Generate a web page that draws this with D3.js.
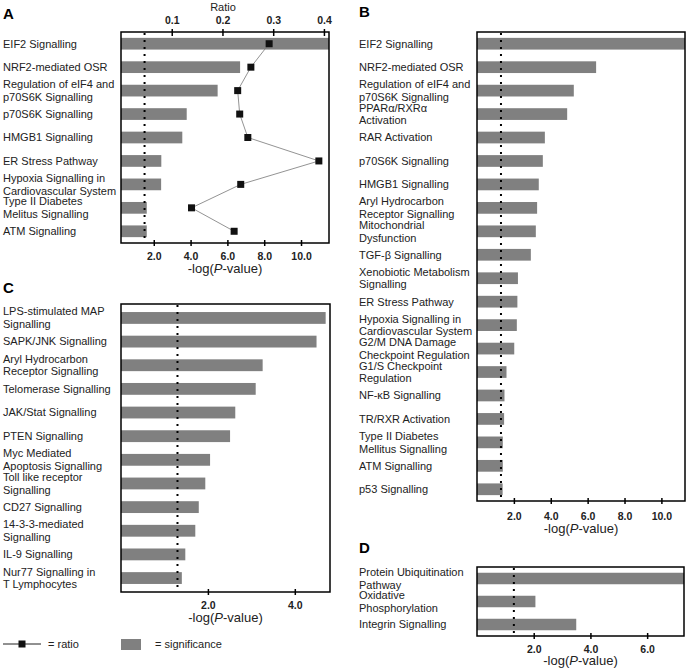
<!DOCTYPE html>
<html lang="en">
<head>
  <meta charset="UTF-8">
  <title>Canonical pathways</title>
  <style>
    body { margin: 0; background: #fff; }
    svg { display: block; font-family: 'Liberation Sans', Arial, sans-serif; }
  </style>
</head>
<body>
  <div id="chart"></div>
  <script src="https://d3js.org/d3.v7.min.js"></script>
  <script>
    const width = 689
    const height = 670

    // ---- panel A ----
    const pathwaysA = ['EIF2 Signalling', 'NRF2-mediated OSR', 'Regulation of eIF4 and\np70S6K Signalling',
      'p70S6K Signalling', 'HMGB1 Signalling', 'ER Stress Pathway',
      'Hypoxia Signalling in\nCardiovascular System', 'Type II Diabetes\nMelitus Signalling', 'ATM Signalling']
    const signifA = [11.6, 6.69, 5.47, 3.79, 3.55, 2.41, 2.40, 1.62, 1.62]
    const ratioA = [0.292, 0.256, 0.230, 0.234, 0.250, 0.390, 0.236, 0.139, 0.223]
    const ticksA = [2, 4, 6, 8, 10]
    const ratioTicksA = [0.1, 0.2, 0.3, 0.4]
    const thresholdA = 1.5

    // ---- panel B ----
    const pathwaysB = ['EIF2 Signalling', 'NRF2-mediated OSR', 'Regulation of eIF4 and\np70S6K Signalling',
      'PPARα/RXRα\nActivation', 'RAR Activation', 'p70S6K Signalling', 'HMGB1 Signalling',
      'Aryl Hydrocarbon\nReceptor Signalling', 'Mitochondrial\nDysfunction', 'TGF-β Signalling',
      'Xenobiotic Metabolism\nSignalling', 'ER Stress Pathway', 'Hypoxia Signalling in\nCardiovascular System',
      'G2/M DNA Damage\nCheckpoint Regulation', 'G1/S Checkpoint\nRegulation', 'NF-κB Signalling',
      'TR/RXR Activation', 'Type II Diabetes\nMellitus Signalling', 'ATM Signalling', 'p53 Signalling']
    const signifB = [11.3, 6.46, 5.25, 4.89, 3.68, 3.57, 3.35, 3.26, 3.19, 2.92,
      2.22, 2.19, 2.16, 2.02, 1.60, 1.49, 1.47, 1.40, 1.40, 1.39]
    const ticksB = [2, 4, 6, 8, 10]
    const thresholdB = 1.3

    // ---- panel C ----
    const pathwaysC = ['LPS-stimulated MAP\nSignalling', 'SAPK/JNK Signalling', 'Aryl Hydrocarbon\nReceptor Signalling',
      'Telomerase Signalling', 'JAK/Stat Signalling', 'PTEN Signalling', 'Myc Mediated\nApoptosis Signalling',
      'Toll like receptor\nSignalling', 'CD27 Signalling', '14-3-3-mediated\nSignalling', 'IL-9 Signalling',
      'Nur77 Signalling in\nT Lymphocytes']
    const signifC = [4.71, 4.50, 3.26, 3.10, 2.63, 2.51, 2.05, 1.94, 1.79, 1.71, 1.48, 1.40]
    const ticksC = [2, 4]
    const thresholdC = 1.3

    // ---- panel D ----
    const pathwaysD = ['Protein Ubiquitination\nPathway', 'Oxidative\nPhosphorylation', 'Integrin Signalling']
    const signifD = [7.4, 2.06, 3.50]
    const ticksD = [2, 4, 6]
    const thresholdD = 1.3

    const barColor = '#808080'
    const tickFont = "'Liberation Sans', Arial, sans-serif"

    const svg = d3.select('#chart').append('svg')
      .attr('width', width)
      .attr('height', height)

    // ticks that cross the frame line (a bit inside, a bit outside)
    function styleAxis(ax, textY, inward) {
      ax.select('.domain').remove()
      ax.selectAll('.tick line')
        .attr('y1', inward)
        .attr('stroke-width', 1.5)
      ax.selectAll('text')
        .attr('y', textY).attr('dy', 0)
        .attr('font-size', 10.5)
        .attr('font-weight', 'bold')
        .attr('font-family', tickFont)
        .attr('fill', '#222')
    }

    function drawPanel(p) {
      const g = svg.append('g')

      const x = d3.scaleLinear().domain(p.domain).range([p.left, p.right])
      const y = d3.scaleBand()
        .domain(p.names)
        .range([p.top, p.bottom])
        .paddingInner(0.5)
        .paddingOuter(p.padOuter || 0.25)

      // panel letter
      g.append('text')
        .attr('x', p.letterX)
        .attr('y', p.letterY)
        .attr('font-size', 15)
        .attr('font-weight', 'bold')
        .text(p.letter)

      // bars
      g.selectAll('rect.bar')
        .data(p.values)
        .join('rect')
        .attr('class', 'bar')
        .attr('x', x(p.domain[0]))
        .attr('y', (d, i) => y(p.names[i]))
        .attr('width', d => Math.min(x(d), p.right) - p.left)
        .attr('height', y.bandwidth())
        .attr('fill', barColor)

      // category labels, multi-line centred on the bar
      const lineH = 12.7
      p.names.forEach(name => {
        const lines = name.split('\n')
        const cy = y(name) + y.bandwidth() / 2
        const t = g.append('text')
          .attr('font-size', 11)
          .attr('fill', '#222')
        lines.forEach((ln, k) => {
          t.append('tspan')
            .attr('x', p.labelX)
            .attr('y', cy - (lines.length - 1) * lineH / 2 + k * lineH)
            .attr('dy', '0.35em')
            .text(ln)
        })
      })

      // threshold dotted line
      g.append('line')
        .attr('x1', x(p.threshold)).attr('x2', x(p.threshold))
        .attr('y1', p.top + 1).attr('y2', p.bottom)
        .attr('stroke', '#000')
        .attr('stroke-width', 2)
        .attr('stroke-dasharray', '2 5')

      // frame
      g.append('rect')
        .attr('x', p.left).attr('y', p.top)
        .attr('width', p.right - p.left).attr('height', p.bottom - p.top)
        .attr('fill', 'none')
        .attr('stroke', '#000')
        .attr('stroke-width', 1.5)

      // bottom axis
      const ax = g.append('g')
        .attr('transform', `translate(0, ${p.bottom})`)
        .call(d3.axisBottom(x).tickValues(p.ticks).tickFormat(d3.format('.1f')).tickSize(3))
      styleAxis(ax, p.tickY, -3)

      const title = g.append('text')
        .attr('x', (p.left + p.right) / 2)
        .attr('y', p.bottom + p.titleY)
        .attr('text-anchor', 'middle')
        .attr('font-size', 13)
        .attr('fill', '#222')
      title.append('tspan').text('-log(')
      title.append('tspan').attr('font-style', 'italic').text('P')
      title.append('tspan').text('-value)')

      return { g, x, y }
    }

    // panel A with ratio overlay
    const pa = drawPanel({
      letter: 'A', letterX: 3, letterY: 19, labelX: 3,
      left: 121, right: 329, top: 32, bottom: 243,
      domain: [0.22, 11.52], names: pathwaysA, values: signifA,
      ticks: ticksA, threshold: thresholdA, tickY: 16.5, titleY: 29.5
    })

    const xr = d3.scaleLinear().domain([0, 0.41]).range([121, 329])
    const topAx = pa.g.append('g')
      .attr('transform', 'translate(0, 32)')
      .call(d3.axisTop(xr).tickValues(ratioTicksA).tickFormat(d3.format('.1f')).tickSize(3))
    styleAxis(topAx, -8.5, 4)
    pa.g.append('text')
      .attr('x', 223).attr('y', 11)
      .attr('text-anchor', 'middle')
      .attr('font-size', 11)
      .attr('fill', '#222')
      .text('Ratio')

    const ratioPts = ratioA.map((r, i) => [xr(r), pa.y(pathwaysA[i]) + pa.y.bandwidth() / 2])
    pa.g.append('path')
      .attr('d', d3.line()(ratioPts))
      .attr('fill', 'none')
      .attr('stroke', '#777')
      .attr('stroke-width', 0.8)
    pa.g.selectAll('rect.pt')
      .data(ratioPts)
      .join('rect')
      .attr('class', 'pt')
      .attr('x', d => d[0] - 3.5)
      .attr('y', d => d[1] - 3.5)
      .attr('width', 7).attr('height', 7)
      .attr('fill', '#111')

    drawPanel({
      letter: 'B', letterX: 359, letterY: 17, labelX: 359,
      left: 477, right: 685, top: 32, bottom: 501,
      domain: [0, 11.28], names: pathwaysB, values: signifB,
      ticks: ticksB, threshold: thresholdB, tickY: 18.5, titleY: 32
    })

    drawPanel({
      letter: 'C', letterX: 3, letterY: 293, labelX: 3,
      left: 121, right: 330, top: 304, bottom: 592,
      domain: [0, 4.81], names: pathwaysC, values: signifC, padOuter: 0.34,
      ticks: ticksC, threshold: thresholdC, tickY: 16.5, titleY: 29.5
    })

    drawPanel({
      letter: 'D', letterX: 359, letterY: 553, labelX: 359,
      left: 477, right: 684, top: 567, bottom: 636,
      domain: [0, 7.3], names: pathwaysD, values: signifD,
      ticks: ticksD, threshold: thresholdD, tickY: 16.5, titleY: 29
    })

    // legend
    const leg = svg.append('g')
    leg.append('line')
      .attr('x1', 3).attr('x2', 41).attr('y1', 644).attr('y2', 644)
      .attr('stroke', '#222').attr('stroke-width', 1)
    leg.append('rect')
      .attr('x', 18.5).attr('y', 640.5).attr('width', 7).attr('height', 7)
      .attr('fill', '#111')
    leg.append('text')
      .attr('x', 48).attr('y', 648)
      .attr('font-size', 11).attr('fill', '#222')
      .text('= ratio')
    leg.append('rect')
      .attr('x', 121).attr('y', 639).attr('width', 20).attr('height', 11)
      .attr('fill', barColor)
    leg.append('text')
      .attr('x', 155).attr('y', 648)
      .attr('font-size', 11).attr('fill', '#222')
      .text('= significance')
  </script>
</body>
</html>
